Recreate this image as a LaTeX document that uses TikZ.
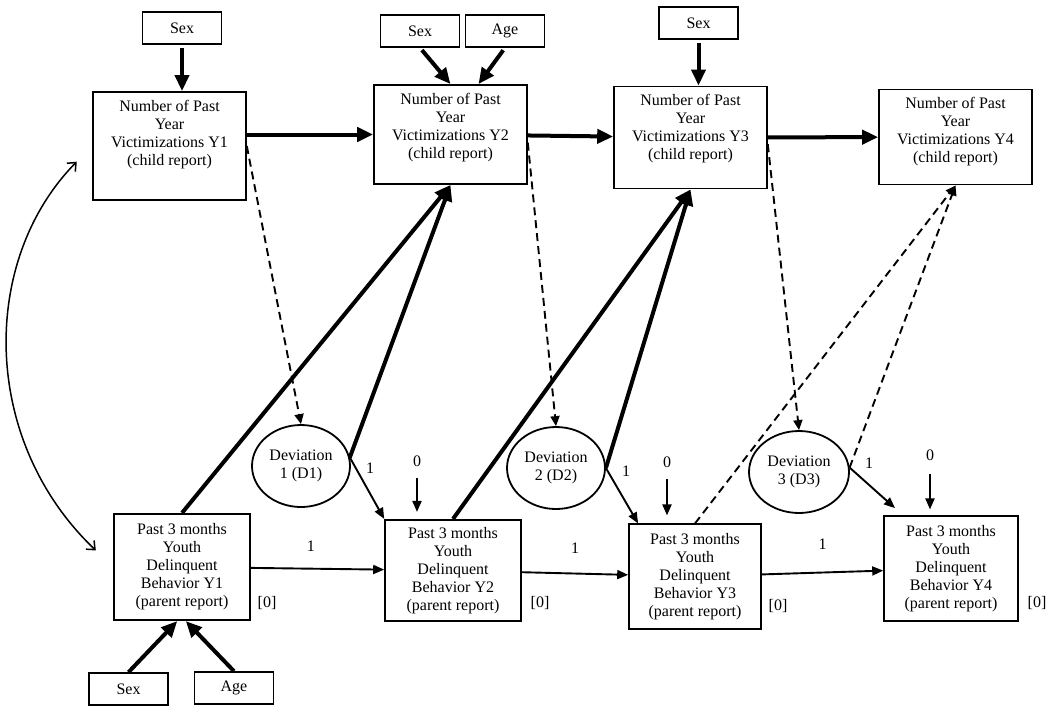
\documentclass[tikz,border=0pt]{standalone}
\usepackage{fontspec}
\setmainfont{Liberation Serif}
\usepackage{tikz}
\usetikzlibrary{arrows.meta, shapes.geometric}
\newcommand\figfont{\fontsize{16}{18}\selectfont}
\tikzset{
  vbox/.style={draw, line width=1.6pt, align=center, minimum width=153pt, inner xsep=3pt, inner ysep=8pt, text depth=18pt, font=\figfont},
  pbox/.style={draw, line width=1.6pt, align=center, minimum width=136pt, inner ysep=9pt, font=\figfont},
  cov/.style={draw, line width=1.6pt, minimum width=79pt, minimum height=32pt, font=\figfont},
  dev/.style={draw, ellipse, line width=1.8pt, minimum width=98pt, minimum height=82pt, inner sep=0pt, align=center, font=\figfont},
  lab/.style={font=\figfont},
  thickarr/.style={line width=4pt, -{Triangle[length=16pt,width=14pt]}},
  thinarr/.style={line width=1.9pt, -{Triangle[length=11pt,width=9pt]}},
  dasharr/.style={line width=1.9pt, dash pattern=on 8pt off 5pt, -{Triangle[length=10pt,width=9pt]}},
  covarr/.style={line width=1.5pt, {Straight Barb[length=7pt,width=12pt]}-{Straight Barb[length=7pt,width=12pt]}}
}

\begin{document}
\begin{tikzpicture}[x=1pt, y=-1pt]
\useasboundingbox (0,0) rectangle (1050,710);
\node[cov] (sexa) at (182,28) {Sex};
\node[cov] (sexb) at (420,31) {Sex};
\node[cov] (ageb) at (505,31) {Age};
\node[cov] (sexc) at (698.5,23) {Sex};
\node[cov] (sexd) at (128.5,689) {Sex};
\node[cov] (aged) at (234,688) {Age};
\node[vbox, text depth=27pt] (v1) at (169.5,146) {Number of Past\\Year\\Victimizations Y1\\(child report)};
\node[vbox] (v2) at (450.5,134.5) {Number of Past\\Year\\Victimizations Y2\\(child report)};
\node[vbox, text depth=21pt] (v3) at (690.5,137.5) {Number of Past\\Year\\Victimizations Y3\\(child report)};
\node[vbox, text depth=14pt] (v4) at (955.5,137) {Number of Past\\Year\\Victimizations Y4\\(child report)};
\node[pbox, inner ysep=10pt] (p1) at (182,567) {Past 3 months\\Youth\\Delinquent\\Behavior Y1\\(parent report)};
\node[pbox, inner ysep=7.5pt] (p2) at (453,570.5) {Past 3 months\\Youth\\Delinquent\\Behavior Y2\\(parent report)};
\node[pbox, minimum width=132pt] (p3) at (695,576.5) {Past 3 months\\Youth\\Delinquent\\Behavior Y3\\(parent report)};
\node[pbox, minimum width=134pt] (p4) at (951,568.5) {Past 3 months\\Youth\\Delinquent\\Behavior Y4\\(parent report)};
\node[dev] (d1) at (301,466) {Deviation\\1 (D1)};
\node[dev] (d2) at (556,468) {Deviation\\2 (D2)};
\node[dev, minimum width=100pt] (d3) at (799,472) {Deviation\\3 (D3)};
\node[lab] (z1) at (417,461) {0};
\node[lab] (z2) at (667,462) {0};
\node[lab] (z3) at (930,455) {0};
\node[lab] (w1) at (370,468) {1};
\node[lab] (w2) at (626,471) {1};
\node[lab] (w3) at (869,463) {1};
\node[lab] (e1) at (267,603) {[0]};
\node[lab] (e2) at (540,603) {[0]};
\node[lab] (e3) at (778,606) {[0]};
\node[lab] (e4) at (1037,603) {[0]};
\draw[thickarr, shorten <=3pt] (sexa.south) -- (sexa.south |- v1.north);
\draw[thickarr, shorten <=3pt] (sexb.south) -- (v2.north);
\draw[thickarr, shorten <=3pt] (ageb.south) -- (v2.61);
\draw[thickarr, shorten <=3pt] (sexc.south) -- (sexc.south |- v3.north);
\draw[thickarr] (sexd.north) -- (p1.-95);
\draw[thickarr] (aged.north) -- (p1.-86);
\draw[thickarr] (v1.east |- v2.west) -- (v2.west);
\draw[thickarr] (v2) -- (v3);
\draw[thickarr] (v3) -- (v4);
\draw[thickarr] (p1.north) -- (v2.south);
\draw[thickarr] (d1.10) -- (v2.south);
\draw[thickarr] (p2.north) -- (v3.south);
\draw[thickarr] (d2.east) -- (v3.south);
\draw[dasharr] (v1.east) -- (d1.north);
\draw[dasharr] (v2.-6) -- (d2.north);
\draw[dasharr] (v3.-5) -- (d3.north);
\draw[dasharr] (p3.north) -- (v4.south);
\draw[dasharr] (d3.5) -- (v4.south);
\draw[thinarr] (d1.10) -- (p2.north west);
\draw[thinarr] (d2.east) -- (p3.137);
\draw[thinarr, shorten >=11pt] (d3.5) -- (p4.132);
\draw[thinarr] (p1) -- (p2) node[lab, pos=.45, above=13pt] (b1) {1};
\draw[thinarr] (p2) -- (p3) node[lab, midway, above=16pt] (b2) {1};
\draw[thinarr] (p3) -- (p4) node[lab, midway, above=19pt] (b3) {1};
\draw[thinarr, shorten <=8pt, shorten >=7pt] (z1.south) -- (z1.south |- p2.north);
\draw[thinarr, shorten <=8pt, shorten >=8pt] (z2.south) -- (z2.south |- p3.north);
\draw[thinarr, shorten <=10pt, shorten >=6pt] (z3.south) -- (z3.south |- p4.north);
\draw[covarr, shorten <=22pt, shorten >=24pt] (v1.west) .. controls (-20,260) and (-20,440) .. (p1.west);
\end{tikzpicture}
\end{document}
